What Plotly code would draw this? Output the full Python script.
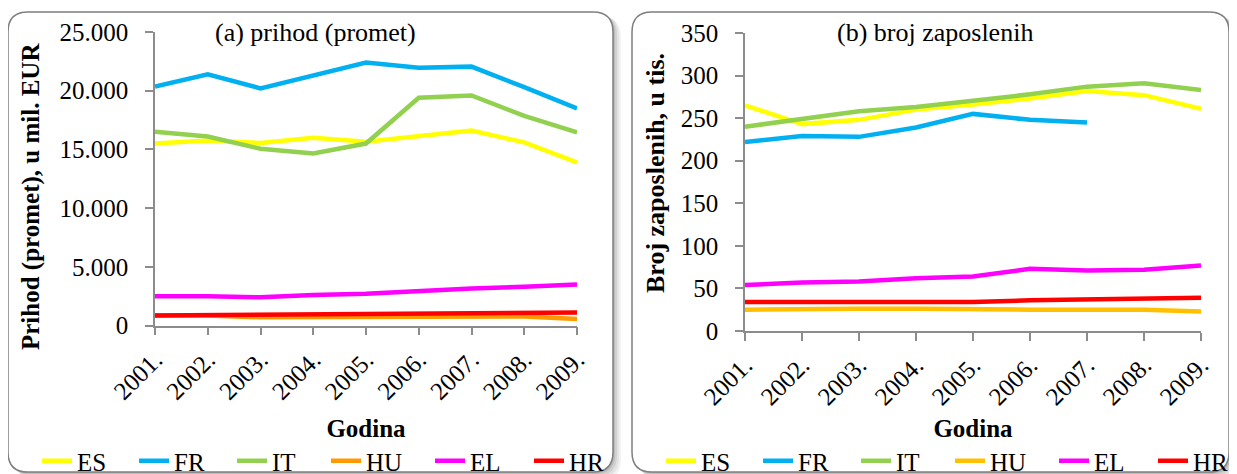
import plotly.graph_objects as go

# page body has an 8px margin; the figure fills the rest of the 1237x474 window
OFF = 8
W, H = 1237 - OFF, 474 - OFF

years = ["2001.", "2002.", "2003.", "2004.", "2005.", "2006.", "2007.", "2008.", "2009."]
countries = ["ES", "FR", "IT", "HU", "EL", "HR"]

# (a) prihod (promet), u mil. EUR
rev_ES = [15500, 15750, 15550, 16000, 15650, 16150, 16600, 15600, 13900]
rev_FR = [20350, 21400, 20200, 21300, 22400, 21950, 22050, 20300, 18500]
rev_IT = [16500, 16100, 15050, 14650, 15500, 19400, 19600, 17850, 16450]
rev_HU = [850, 850, 700, 700, 720, 750, 780, 760, 550]
rev_EL = [2500, 2500, 2400, 2600, 2700, 2950, 3150, 3300, 3500]
rev_HR = [850, 880, 880, 900, 950, 1000, 1080, 1100, 1100]

# (b) broj zaposlenih, u tis.
emp_ES = [265, 243, 248, 260, 266, 273, 282, 277, 261]
emp_FR = [222, 229, 228, 239, 255, 248, 245, None, None]
emp_IT = [240, 249, 258, 263, 270, 278, 287, 291, 283]
emp_HU = [25, 26, 26, 26, 25, 25, 25, 25, 23]
emp_EL = [54, 57, 58, 62, 64, 73, 71, 72, 77]
emp_HR = [34, 34, 34, 34, 34, 36, 37, 37, 39]

colors_a = {"ES": "#FFFF00", "FR": "#00B0F0", "IT": "#92D050", "HU": "#FF9900", "EL": "#FF00FF", "HR": "#FF0000"}
colors_b = {"ES": "#FFFF00", "FR": "#00B0F0", "IT": "#92D050", "HU": "#FFC000", "EL": "#FF00FF", "HR": "#FF0000"}
legend_widths = {"ES": 52, "FR": 53, "IT": 49, "HU": 59, "EL": 54, "HR": 54}

series_a = {"ES": rev_ES, "FR": rev_FR, "IT": rev_IT, "HU": rev_HU, "EL": rev_EL, "HR": rev_HR}
series_b = {"ES": emp_ES, "FR": emp_FR, "IT": emp_IT, "HU": emp_HU, "EL": emp_EL, "HR": emp_HR}

FONT = "Liberation Serif"
AXIS_GRAY = "#8C8C8C"

fig = go.Figure()

for c in countries:
    fig.add_trace(go.Scatter(x=years, y=series_a[c], name=c, mode="lines",
                             line=dict(color=colors_a[c], width=4.5),
                             xaxis="x", yaxis="y", legend="legend",
                             legendwidth=legend_widths[c]))
for c in countries:
    fig.add_trace(go.Scatter(x=years, y=series_b[c], name=c, mode="lines",
                             line=dict(color=colors_b[c], width=4.5),
                             xaxis="x2", yaxis="y2", legend="legend2",
                             legendwidth=legend_widths[c], connectgaps=False))


def px(x):
    return (x - OFF) / W


def py(y):
    return 1 - (y - OFF) / H


def rrect(x0, y0, x1, y1, r):
    pts = [
        f"M {px(x0 + r)},{py(y0)}",
        f"L {px(x1 - r)},{py(y0)}",
        f"Q {px(x1)},{py(y0)} {px(x1)},{py(y0 + r)}",
        f"L {px(x1)},{py(y1 - r)}",
        f"Q {px(x1)},{py(y1)} {px(x1 - r)},{py(y1)}",
        f"L {px(x0 + r)},{py(y1)}",
        f"Q {px(x0)},{py(y1)} {px(x0)},{py(y1 - r)}",
        f"L {px(x0)},{py(y0 + r)}",
        f"Q {px(x0)},{py(y0)} {px(x0 + r)},{py(y0)}",
        "Z",
    ]
    return " ".join(pts)


shapes = []
panels = [(8, 12, 613, 472), (632, 12, 1229, 472)]
for (x0, y0, x1, y1) in panels:
    for off, op in [(8, 0.05), (6, 0.06), (4, 0.08), (2, 0.10)]:
        shapes.append(dict(type="path", xref="paper", yref="paper",
                           path=rrect(x0 + off, y0 + off * 0.6, x1 + off, y1 + off, 20),
                           fillcolor=f"rgba(0,0,0,{op})", line=dict(width=0), layer="below"))
    shapes.append(dict(type="path", xref="paper", yref="paper",
                       path=rrect(x0, y0, x1, y1, 20),
                       fillcolor="white", line=dict(color="#7F7F7F", width=1.5), layer="below"))

axis_common = dict(showline=True, linecolor=AXIS_GRAY, linewidth=1.5, ticks="outside",
                   tickcolor=AXIS_GRAY, ticklen=8, tickwidth=1.5, showgrid=False, zeroline=False,
                   automargin=False,
                   tickfont=dict(family=FONT, size=25, color="black"))

fig.update_layout(
    width=W, height=H,
    margin=dict(l=0, r=0, t=0, b=0, autoexpand=False),
    paper_bgcolor="white", plot_bgcolor="rgba(0,0,0,0)",
    separators=",.",
    font=dict(family=FONT, size=25, color="black"),
    shapes=shapes,
    xaxis=dict(domain=[px(155), px(577)], anchor="y", type="category", range=[0, 8],
               tickangle=-45, title=dict(text="<b>Godina</b>", font=dict(family=FONT, size=25), standoff=16),
               **axis_common),
    yaxis=dict(domain=[py(325.5), py(32)], anchor="x", range=[0, 25000], dtick=5000,
               tickformat=",", ticklabelstandoff=12,
               **axis_common),
    xaxis2=dict(domain=[px(745), px(1201)], anchor="y2", type="category", range=[0, 8],
                tickangle=-45, title=dict(text="<b>Godina</b>", font=dict(family=FONT, size=25), standoff=10),
                **axis_common),
    yaxis2=dict(domain=[py(331), py(33)], anchor="x2", range=[0, 350], dtick=50,
                ticklabelstandoff=12,
                **axis_common),
    legend=dict(orientation="h", x=px(37), xanchor="left", y=py(461), yanchor="middle",
                bgcolor="rgba(0,0,0,0)", font=dict(family=FONT, size=25), borderwidth=0),
    legend2=dict(orientation="h", x=px(661), xanchor="left", y=py(461), yanchor="middle",
                 bgcolor="rgba(0,0,0,0)", font=dict(family=FONT, size=25), borderwidth=0),
    annotations=[
        dict(text="(a) prihod (promet)", xref="paper", yref="paper", x=px(315), y=py(33),
             xanchor="center", yanchor="middle", showarrow=False, font=dict(family=FONT, size=26)),
        dict(text="(b) broj zaposlenih", xref="paper", yref="paper", x=px(935), y=py(33),
             xanchor="center", yanchor="middle", showarrow=False, font=dict(family=FONT, size=26)),
        dict(text="<b>Prihod (promet), u mil. EUR</b>", xref="paper", yref="paper",
             x=px(31), y=py(197), xanchor="center", yanchor="middle", textangle=-90,
             showarrow=False, font=dict(family=FONT, size=25)),
        dict(text="<b>Broj zaposlenih, u tis.</b>", xref="paper", yref="paper",
             x=px(656), y=py(173), xanchor="center", yanchor="middle", textangle=-90,
             showarrow=False, font=dict(family=FONT, size=26)),
    ],
)

fig.write_html("out.html")
